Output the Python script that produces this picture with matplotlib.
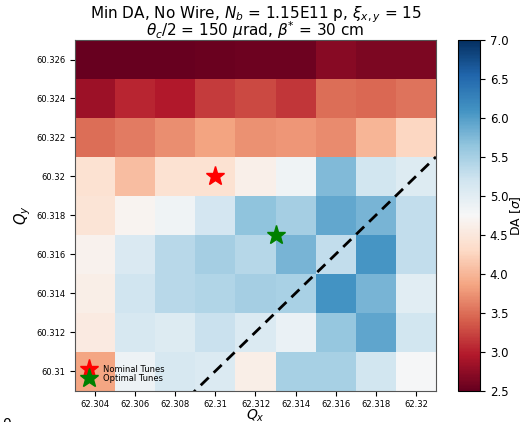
import numpy as np
import matplotlib
matplotlib.use("Agg")
import matplotlib.pyplot as plt

# Tune scan grid
qx = [62.304, 62.306, 62.308, 62.310, 62.312, 62.314, 62.316, 62.318, 62.320]
qy = [60.310, 60.312, 60.314, 60.316, 60.318, 60.320, 60.322, 60.324, 60.326]
qx_labels = ["62.304", "62.306", "62.308", "62.31", "62.312", "62.314", "62.316", "62.318", "62.32"]
qy_labels = ["60.31", "60.312", "60.314", "60.316", "60.318", "60.32", "60.322", "60.324", "60.326"]

# Minimum dynamic aperture [sigma]; rows follow qy (bottom to top), columns follow qx
da_min = [
    [3.87, 4.87, 5.12, 5.07, 4.60, 5.50, 5.50, 5.18, 4.78],  # 60.310
    [4.55, 5.13, 5.05, 5.25, 5.08, 4.90, 5.62, 5.93, 5.18],  # 60.312
    [4.60, 5.20, 5.38, 5.42, 5.52, 5.48, 6.10, 5.80, 5.00],  # 60.314
    [4.66, 5.10, 5.38, 5.52, 5.40, 5.80, 5.30, 6.08, 5.30],  # 60.316
    [4.45, 4.68, 4.85, 5.17, 5.65, 5.52, 5.92, 5.80, 5.30],  # 60.318
    [4.40, 4.05, 4.40, 4.40, 4.62, 4.85, 5.74, 5.18, 5.05],  # 60.320
    [3.50, 3.58, 3.70, 3.85, 3.72, 3.75, 3.68, 3.98, 4.27],  # 60.322
    [2.82, 3.04, 2.95, 3.18, 3.27, 3.15, 3.49, 3.45, 3.53],  # 60.324
    [2.50, 2.50, 2.50, 2.52, 2.55, 2.55, 2.70, 2.63, 2.63],  # 60.326
]

nominal = (62.310, 60.320)
optimal = (62.313, 60.317)

step = 0.002
x_edges = np.append(np.array(qx) - step / 2, qx[-1] + step / 2)
y_edges = np.append(np.array(qy) - step / 2, qy[-1] + step / 2)

fig = plt.figure(figsize=(5.24, 4.22), dpi=100)
ax = fig.add_axes([0.1431, 0.0746, 0.6889, 0.8305])
cax = fig.add_axes([0.874, 0.0746, 0.042, 0.8305])

mesh = ax.pcolormesh(x_edges, y_edges, np.array(da_min), cmap="RdBu", vmin=2.5, vmax=7.0)

# Diagonal resonance Qx - Qy = 2
xl = (x_edges[0], x_edges[-1])
ax.plot(xl, (xl[0] - 2.0, xl[1] - 2.0), color="black", ls="--", lw=2, dashes=(4, 2.5))

ax.plot(*nominal, marker="*", color="red", ms=14, ls="none", label="Nominal Tunes")
ax.plot(*optimal, marker="*", color="green", ms=14, ls="none", label="Optimal Tunes")

ax.set_xlim(x_edges[0], x_edges[-1])
ax.set_ylim(y_edges[0], y_edges[-1])
ax.set_xticks(qx)
ax.set_xticklabels(qx_labels)
ax.set_yticks(qy)
ax.set_yticklabels(qy_labels)
ax.tick_params(labelsize=6)
ax.set_xlabel("$Q_x$", fontsize=10, labelpad=-1.5)
ax.set_ylabel("$Q_y$", fontsize=10.5, labelpad=2)
for s in ax.spines.values():
    s.set_color("#555555")

# Two-line title, placed line by line on fixed baselines
x_mid = (ax.get_position().x0 + ax.get_position().x1) / 2
fig.text(x_mid, 0.9562, "Min DA, No Wire, $N_b$ = 1.15E11 p, $\\xi_{x,y}$ = 15",
         fontsize=11, ha="center", va="baseline")
fig.text(x_mid, 0.9147, "$\\theta_c/2$ = 150 $\\mu$rad, $\\beta^{*}$ = 30 cm",
         fontsize=11, ha="center", va="baseline")

ax.legend(loc="lower left", frameon=False, fontsize=6, handletextpad=0.9,
          labelspacing=0.05, borderaxespad=0.5, handlelength=1.6,
          bbox_to_anchor=(0.0, 0.0))

cb = fig.colorbar(mesh, cax=cax)
cb.set_ticks(np.arange(2.5, 7.01, 0.5))
cb.ax.tick_params(labelsize=8.5)
cb.set_label("DA [$\\sigma$]", fontsize=9, labelpad=0)

fig.text(0.004, 0.0118, "0", fontsize=10, va="top", ha="left")

fig.savefig("out.png", dpi=100)
